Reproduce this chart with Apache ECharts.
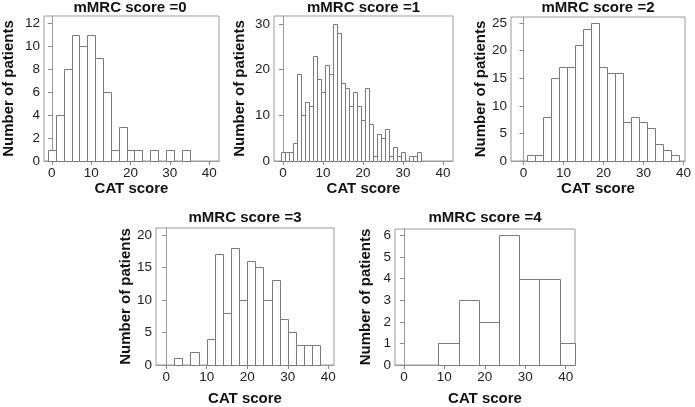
<!DOCTYPE html>
<html>
<head>
<meta charset="utf-8">
<script src="https://cdn.jsdelivr.net/npm/echarts@6/dist/echarts.min.js"></script>
<style>
  html, body { margin: 0; padding: 0; background: #fff; }
  #main { width: 695px; height: 407px; }
</style>
</head>
<body>
<div id="main"></div>
<script>
// CAT score histograms, one per mMRC group (bin centre + count)
var titles = ['mMRC score =0', 'mMRC score =1', 'mMRC score =2', 'mMRC score =3', 'mMRC score =4'];
var binWidths = [2, 1, 2, 2, 5];

var centers0 = [0, 2, 4, 6, 8, 10, 12, 14, 16, 18, 20, 22, 24, 26, 28, 30, 32, 34];
var counts0  = [1, 4, 8, 11, 10, 11, 9, 6, 1, 3, 1, 1, 0, 1, 0, 1, 0, 1];

var centers1 = [0, 1, 2, 3, 4, 5, 6, 7, 8, 9, 10, 11, 12, 13, 14, 15, 16, 17, 18, 19, 20,
                21, 22, 23, 24, 25, 26, 27, 28, 29, 30, 31, 32, 33, 34];
var counts1  = [2, 2, 2, 4, 19, 10, 13, 12, 23, 18, 15, 21, 19, 30, 28, 17, 16, 12, 15, 12, 9,
                16, 8, 1, 6, 5, 7, 1, 3, 1, 2, 0, 1, 1, 2];

var centers2 = [2, 4, 6, 8, 10, 12, 14, 16, 18, 20, 22, 24, 26, 28, 30, 32, 34, 36, 38];
var counts2  = [1, 1, 8, 15, 17, 17, 21, 24, 25, 17, 16, 16, 7, 8, 7, 6, 3, 2, 1];

var centers3 = [1, 3, 5, 7, 9, 11, 13, 15, 17, 19, 21, 23, 25, 27, 29, 31, 33, 35, 37];
var counts3  = [0, 1, 0, 2, 0, 4, 17, 8, 18, 10, 16, 15, 10, 13, 7, 5, 3, 3, 3];

var centers4 = [11, 16, 21, 26, 31, 36, 41];
var counts4  = [1, 3, 2, 6, 4, 4, 1];

var xTicks = [0, 10, 20, 30, 40];
var yTicks = [
  [0, 2, 4, 6, 8, 10, 12],
  [0, 10, 20, 30],
  [0, 5, 10, 15, 20, 25],
  [0, 5, 10, 15, 20],
  [0, 1, 2, 3, 4, 5, 6]
];

var centers = [centers0, centers1, centers2, centers3, centers4];
var counts = [counts0, counts1, counts2, counts3, counts4];

// layout of the five panels
var grids = [
  { left: 41,  top: 16,  width: 178, height: 145 },
  { left: 274, top: 16,  width: 179, height: 145 },
  { left: 511, top: 17,  width: 174, height: 144 },
  { left: 156, top: 228, width: 178, height: 142 },
  { left: 395, top: 229, width: 180, height: 141 }
];
var xRanges = [[-2, 42.5], [-2.25, 42.5], [-3.1, 40.4], [-2.5, 41.4], [-2.2, 42.3]];
var yMax = [12.64, 31.75, 26.1, 21.05, 6.3];
var yNameGap = [28, 27, 23, 23, 22];
var xNameGap = [19, 19, 19, 26, 26];

var FONT = "'Liberation Sans', Arial, Helvetica, sans-serif";

var myChart = echarts.init(document.getElementById('main'));

function renderBin(params, api) {
  var c = api.value(0), w = api.value(1), n = api.value(2);
  if (!n) return;
  var p0 = api.coord([c - w / 2, n]);
  var p1 = api.coord([c + w / 2, 0]);
  var x0 = Math.round(p0[0]) + 0.5, x1 = Math.round(p1[0]) + 0.5;
  var y0 = Math.round(p0[1]) + 0.5, y1 = Math.round(p1[1]) + 0.5;
  var cs = params.coordSys;
  var shape = echarts.graphic.clipRectByRect(
    { x: x0, y: y0, width: x1 - x0, height: y1 - y0 },
    { x: cs.x, y: cs.y - 1, width: cs.width + 0.5, height: cs.height + 2 }
  );
  if (!shape) return;
  return {
    type: 'rect',
    shape: shape,
    style: { fill: '#fff', stroke: '#7a7a7a', lineWidth: 1 }
  };
}

var option = {
  animation: false,
  backgroundColor: '#fff',
  textStyle: { fontFamily: FONT },
  grid: [],
  xAxis: [],
  yAxis: [],
  series: [],
  graphic: []
};

for (var i = 0; i < 5; i++) {
  var g = grids[i];
  option.grid.push({
    left: g.left, top: g.top, width: g.width, height: g.height,
    show: true, borderColor: '#9a9a9a', borderWidth: 1, backgroundColor: 'transparent'
  });
  option.xAxis.push({
    gridIndex: i, type: 'value', min: xRanges[i][0], max: xRanges[i][1],
    name: 'CAT score', nameLocation: 'middle', nameGap: xNameGap[i],
    nameTextStyle: { fontFamily: FONT, fontWeight: 'bold', fontSize: 15, color: '#111' },
    axisLine: { show: true, onZero: false, lineStyle: { color: '#9a9a9a' } },
    axisTick: { show: true, customValues: xTicks, length: 4, lineStyle: { color: '#888' } },
    axisLabel: { customValues: xTicks, fontFamily: FONT, fontSize: 13.5, color: '#222', margin: 5 },
    splitLine: { show: false }
  });
  option.yAxis.push({
    gridIndex: i, type: 'value', min: 0, max: yMax[i],
    name: 'Number of patients', nameLocation: 'middle', nameGap: yNameGap[i],
    nameTextStyle: { fontFamily: FONT, fontWeight: 'bold', fontSize: 15, color: '#111' },
    axisLine: { show: true, lineStyle: { color: '#9a9a9a' } },
    axisTick: { show: true, customValues: yTicks[i], length: 4, lineStyle: { color: '#888' } },
    axisLabel: { customValues: yTicks[i], fontFamily: FONT, fontSize: 13.5, color: '#222', margin: 4 },
    splitLine: { show: false }
  });
  var data = centers[i].map(function (c, k) { return [c, binWidths[i], counts[i][k]]; });
  option.series.push({
    type: 'custom', xAxisIndex: i, yAxisIndex: i,
    renderItem: renderBin, encode: { x: 0, y: 2 }, data: data
  });
  option.graphic.push({
    type: 'text',
    x: g.left + g.width / 2,
    y: i < 3 ? 7.5 : 218,
    style: {
      text: titles[i], textAlign: 'center', textVerticalAlign: 'middle',
      font: 'bold 15px ' + FONT, fill: '#111'
    }
  });
}

myChart.setOption(option);
</script>
</body>
</html>
